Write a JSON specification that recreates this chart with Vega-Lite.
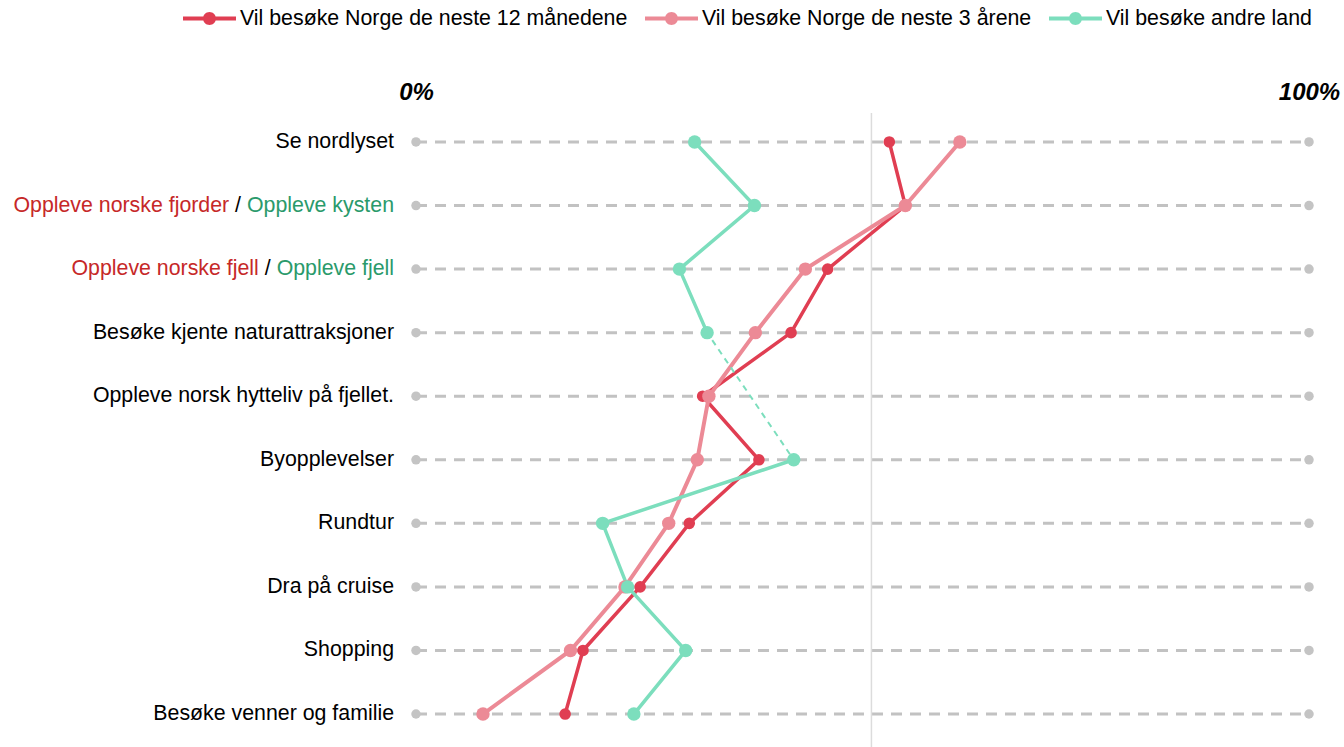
{
  "$schema": "https://vega.github.io/schema/vega-lite/v6.json",
  "autosize": {"type": "none"},
  "padding": {"left": 416, "top": 113, "right": 35, "bottom": 0},
  "width": 893,
  "height": 634,
  "background": "white",
  "config": {
    "view": {"stroke": null},
    "font": "Liberation Sans, Arial, sans-serif",
    "legend": {"title": null, "orient": "none", "legendX": -233, "legendY": -121, "direction": "horizontal",
      "symbolType": "M-1,-0.075H1V0.075H-1ZM0.245,0A0.245,0.245,0,1,1,-0.245,0A0.245,0.245,0,1,1,0.245,0Z",
      "symbolSize": 2809, "symbolStrokeWidth": 0, "symbolOpacity": 1,
      "labelFont": "Liberation Sans, Arial, sans-serif", "labelFontSize": 21.33, "labelColor": "#000000", "labelLimit": 1000,
      "labelOffset": 4, "columnPadding": 17, "padding": 0}
  },
  "datasets": {
    "verdier": [
      {"aktivitet": "Se nordlyset", "serie": "Vil besøke Norge de neste 12 månedene", "verdi": 53.0},
      {"aktivitet": "Se nordlyset", "serie": "Vil besøke Norge de neste 3 årene", "verdi": 60.9},
      {"aktivitet": "Se nordlyset", "serie": "Vil besøke andre land", "verdi": 31.2},
      {"aktivitet": "Oppleve norske fjorder / Oppleve kysten", "serie": "Vil besøke Norge de neste 12 månedene", "verdi": 54.8},
      {"aktivitet": "Oppleve norske fjorder / Oppleve kysten", "serie": "Vil besøke Norge de neste 3 årene", "verdi": 54.8},
      {"aktivitet": "Oppleve norske fjorder / Oppleve kysten", "serie": "Vil besøke andre land", "verdi": 37.9},
      {"aktivitet": "Oppleve norske fjell / Oppleve fjell", "serie": "Vil besøke Norge de neste 12 månedene", "verdi": 46.1},
      {"aktivitet": "Oppleve norske fjell / Oppleve fjell", "serie": "Vil besøke Norge de neste 3 årene", "verdi": 43.6},
      {"aktivitet": "Oppleve norske fjell / Oppleve fjell", "serie": "Vil besøke andre land", "verdi": 29.5},
      {"aktivitet": "Besøke kjente naturattraksjoner", "serie": "Vil besøke Norge de neste 12 månedene", "verdi": 42.0},
      {"aktivitet": "Besøke kjente naturattraksjoner", "serie": "Vil besøke Norge de neste 3 årene", "verdi": 38.0},
      {"aktivitet": "Besøke kjente naturattraksjoner", "serie": "Vil besøke andre land", "verdi": 32.6},
      {"aktivitet": "Oppleve norsk hytteliv på fjellet.", "serie": "Vil besøke Norge de neste 12 månedene", "verdi": 32.1},
      {"aktivitet": "Oppleve norsk hytteliv på fjellet.", "serie": "Vil besøke Norge de neste 3 årene", "verdi": 32.8},
      {"aktivitet": "Oppleve norsk hytteliv på fjellet.", "serie": "Vil besøke andre land", "verdi": null},
      {"aktivitet": "Byopplevelser", "serie": "Vil besøke Norge de neste 12 månedene", "verdi": 38.4},
      {"aktivitet": "Byopplevelser", "serie": "Vil besøke Norge de neste 3 årene", "verdi": 31.5},
      {"aktivitet": "Byopplevelser", "serie": "Vil besøke andre land", "verdi": 42.3},
      {"aktivitet": "Rundtur", "serie": "Vil besøke Norge de neste 12 månedene", "verdi": 30.6},
      {"aktivitet": "Rundtur", "serie": "Vil besøke Norge de neste 3 årene", "verdi": 28.3},
      {"aktivitet": "Rundtur", "serie": "Vil besøke andre land", "verdi": 20.9},
      {"aktivitet": "Dra på cruise", "serie": "Vil besøke Norge de neste 12 månedene", "verdi": 25.1},
      {"aktivitet": "Dra på cruise", "serie": "Vil besøke Norge de neste 3 årene", "verdi": 23.4},
      {"aktivitet": "Dra på cruise", "serie": "Vil besøke andre land", "verdi": 23.7},
      {"aktivitet": "Shopping", "serie": "Vil besøke Norge de neste 12 månedene", "verdi": 18.7},
      {"aktivitet": "Shopping", "serie": "Vil besøke Norge de neste 3 årene", "verdi": 17.3},
      {"aktivitet": "Shopping", "serie": "Vil besøke andre land", "verdi": 30.2},
      {"aktivitet": "Besøke venner og familie", "serie": "Vil besøke Norge de neste 12 månedene", "verdi": 16.7},
      {"aktivitet": "Besøke venner og familie", "serie": "Vil besøke Norge de neste 3 årene", "verdi": 7.5},
      {"aktivitet": "Besøke venner og familie", "serie": "Vil besøke andre land", "verdi": 24.4}
    ],
    "rader": [
      {"aktivitet": "Se nordlyset", "norge": null, "andre": null},
      {"aktivitet": "Oppleve norske fjorder / Oppleve kysten", "norge": "Oppleve norske fjorder", "andre": "Oppleve kysten"},
      {"aktivitet": "Oppleve norske fjell / Oppleve fjell", "norge": "Oppleve norske fjell", "andre": "Oppleve fjell"},
      {"aktivitet": "Besøke kjente naturattraksjoner", "norge": null, "andre": null},
      {"aktivitet": "Oppleve norsk hytteliv på fjellet.", "norge": null, "andre": null},
      {"aktivitet": "Byopplevelser", "norge": null, "andre": null},
      {"aktivitet": "Rundtur", "norge": null, "andre": null},
      {"aktivitet": "Dra på cruise", "norge": null, "andre": null},
      {"aktivitet": "Shopping", "norge": null, "andre": null},
      {"aktivitet": "Besøke venner og familie", "norge": null, "andre": null}
    ]
  },
  "layer": [
    {
      "data": {"name": "rader"},
      "mark": {"type": "rule", "color": "#c2c2c2", "strokeWidth": 3, "strokeDash": [11, 8]},
      "encoding": {
        "x": {"datum": 0, "type": "quantitative",
          "scale": {"domain": [0, 100], "nice": false, "zero": true},
          "axis": {"orient": "top", "values": [0, 100], "labelExpr": "datum.value + '%'", "domain": false, "ticks": false, "grid": false, "title": null,
            "labelFont": "Liberation Sans, Arial, sans-serif", "labelFontSize": 24, "labelFontWeight": "bold", "labelFontStyle": "italic",
            "labelColor": "#000000", "labelPadding": 14, "labelBaseline": "alphabetic", "labelFlush": false, "labelOverlap": false, "labelBound": false}},
        "x2": {"datum": 100},
        "y": {"field": "aktivitet", "type": "nominal", "axis": null,
          "sort": ["Se nordlyset", "Oppleve norske fjorder / Oppleve kysten", "Oppleve norske fjell / Oppleve fjell", "Besøke kjente naturattraksjoner", "Oppleve norsk hytteliv på fjellet.", "Byopplevelser", "Rundtur", "Dra på cruise", "Shopping", "Besøke venner og familie"],
          "scale": {"type": "point", "padding": 0.4874, "align": 0.4677}}
      }
    },
    {
      "data": {"values": [{"midt": 51}]},
      "mark": {"type": "rule", "color": "#dcdcdc", "strokeWidth": 1.5},
      "encoding": {"x": {"field": "midt", "type": "quantitative"}}
    },
    {
      "data": {"name": "rader"},
      "mark": {"type": "point", "filled": true, "opacity": 1, "color": "#c4c4c4", "size": 90},
      "encoding": {
        "x": {"datum": 0, "type": "quantitative"},
        "y": {"field": "aktivitet", "type": "nominal", "axis": null,
          "sort": ["Se nordlyset", "Oppleve norske fjorder / Oppleve kysten", "Oppleve norske fjell / Oppleve fjell", "Besøke kjente naturattraksjoner", "Oppleve norsk hytteliv på fjellet.", "Byopplevelser", "Rundtur", "Dra på cruise", "Shopping", "Besøke venner og familie"]}
      }
    },
    {
      "data": {"name": "rader"},
      "mark": {"type": "point", "filled": true, "opacity": 1, "color": "#c4c4c4", "size": 90},
      "encoding": {
        "x": {"datum": 100, "type": "quantitative"},
        "y": {"field": "aktivitet", "type": "nominal", "axis": null,
          "sort": ["Se nordlyset", "Oppleve norske fjorder / Oppleve kysten", "Oppleve norske fjell / Oppleve fjell", "Besøke kjente naturattraksjoner", "Oppleve norsk hytteliv på fjellet.", "Byopplevelser", "Rundtur", "Dra på cruise", "Shopping", "Besøke venner og familie"]}
      }
    },
    {
      "data": {"name": "rader"},
      "transform": [{"filter": "datum.andre == null"}],
      "mark": {"type": "text", "align": "right", "baseline": "middle", "dx": -22, "fontSize": 21.33, "font": "Liberation Sans, Arial, sans-serif", "color": "#000000"},
      "encoding": {
        "x": {"datum": 0, "type": "quantitative"},
        "y": {"field": "aktivitet", "type": "nominal", "axis": null,
          "sort": ["Se nordlyset", "Oppleve norske fjorder / Oppleve kysten", "Oppleve norske fjell / Oppleve fjell", "Besøke kjente naturattraksjoner", "Oppleve norsk hytteliv på fjellet.", "Byopplevelser", "Rundtur", "Dra på cruise", "Shopping", "Besøke venner og familie"]},
        "text": {"field": "aktivitet"}
      }
    },
    {
      "data": {"name": "rader"},
      "transform": [{"filter": "datum.andre != null"}],
      "mark": {"type": "text", "align": "right", "baseline": "middle", "dx": -22, "fontSize": 21.33, "font": "Liberation Sans, Arial, sans-serif", "color": "#2a9a6b"},
      "encoding": {
        "x": {"datum": 0, "type": "quantitative"},
        "y": {"field": "aktivitet", "type": "nominal", "axis": null,
          "sort": ["Se nordlyset", "Oppleve norske fjorder / Oppleve kysten", "Oppleve norske fjell / Oppleve fjell", "Besøke kjente naturattraksjoner", "Oppleve norsk hytteliv på fjellet.", "Byopplevelser", "Rundtur", "Dra på cruise", "Shopping", "Besøke venner og familie"]},
        "text": {"field": "andre"}
      }
    },
    {
      "data": {"name": "rader"},
      "transform": [{"filter": "datum.andre == 'Oppleve kysten'"}],
      "mark": {"type": "text", "align": "right", "baseline": "middle", "dx": -175, "fontSize": 21.33, "font": "Liberation Sans, Arial, sans-serif", "color": "#000000"},
      "encoding": {
        "x": {"datum": 0, "type": "quantitative"},
        "y": {"field": "aktivitet", "type": "nominal", "axis": null,
          "sort": ["Se nordlyset", "Oppleve norske fjorder / Oppleve kysten", "Oppleve norske fjell / Oppleve fjell", "Besøke kjente naturattraksjoner", "Oppleve norsk hytteliv på fjellet.", "Byopplevelser", "Rundtur", "Dra på cruise", "Shopping", "Besøke venner og familie"]},
        "text": {"value": "/"}
      }
    },
    {
      "data": {"name": "rader"},
      "transform": [{"filter": "datum.andre == 'Oppleve kysten'"}],
      "mark": {"type": "text", "align": "right", "baseline": "middle", "dx": -186.8, "fontSize": 21.33, "font": "Liberation Sans, Arial, sans-serif", "color": "#c62828"},
      "encoding": {
        "x": {"datum": 0, "type": "quantitative"},
        "y": {"field": "aktivitet", "type": "nominal", "axis": null,
          "sort": ["Se nordlyset", "Oppleve norske fjorder / Oppleve kysten", "Oppleve norske fjell / Oppleve fjell", "Besøke kjente naturattraksjoner", "Oppleve norsk hytteliv på fjellet.", "Byopplevelser", "Rundtur", "Dra på cruise", "Shopping", "Besøke venner og familie"]},
        "text": {"field": "norge"}
      }
    },
    {
      "data": {"name": "rader"},
      "transform": [{"filter": "datum.andre == 'Oppleve fjell'"}],
      "mark": {"type": "text", "align": "right", "baseline": "middle", "dx": -145.3, "fontSize": 21.33, "font": "Liberation Sans, Arial, sans-serif", "color": "#000000"},
      "encoding": {
        "x": {"datum": 0, "type": "quantitative"},
        "y": {"field": "aktivitet", "type": "nominal", "axis": null,
          "sort": ["Se nordlyset", "Oppleve norske fjorder / Oppleve kysten", "Oppleve norske fjell / Oppleve fjell", "Besøke kjente naturattraksjoner", "Oppleve norsk hytteliv på fjellet.", "Byopplevelser", "Rundtur", "Dra på cruise", "Shopping", "Besøke venner og familie"]},
        "text": {"value": "/"}
      }
    },
    {
      "data": {"name": "rader"},
      "transform": [{"filter": "datum.andre == 'Oppleve fjell'"}],
      "mark": {"type": "text", "align": "right", "baseline": "middle", "dx": -157.2, "fontSize": 21.33, "font": "Liberation Sans, Arial, sans-serif", "color": "#c62828"},
      "encoding": {
        "x": {"datum": 0, "type": "quantitative"},
        "y": {"field": "aktivitet", "type": "nominal", "axis": null,
          "sort": ["Se nordlyset", "Oppleve norske fjorder / Oppleve kysten", "Oppleve norske fjell / Oppleve fjell", "Besøke kjente naturattraksjoner", "Oppleve norsk hytteliv på fjellet.", "Byopplevelser", "Rundtur", "Dra på cruise", "Shopping", "Besøke venner og familie"]},
        "text": {"field": "norge"}
      }
    },
    {
      "data": {"name": "verdier"},
      "transform": [{"filter": "datum.serie == 'Vil besøke Norge de neste 12 månedene'"}],
      "mark": {"type": "line", "color": "#e03e52", "strokeWidth": 3.5},
      "encoding": {
        "x": {"field": "verdi", "type": "quantitative"},
        "y": {"field": "aktivitet", "type": "nominal", "axis": null,
          "sort": ["Se nordlyset", "Oppleve norske fjorder / Oppleve kysten", "Oppleve norske fjell / Oppleve fjell", "Besøke kjente naturattraksjoner", "Oppleve norsk hytteliv på fjellet.", "Byopplevelser", "Rundtur", "Dra på cruise", "Shopping", "Besøke venner og familie"]},
        "order": {"value": null}
      }
    },
    {
      "data": {"name": "verdier"},
      "transform": [{"filter": "datum.serie == 'Vil besøke Norge de neste 3 årene'"}],
      "mark": {"type": "line", "color": "#ec8a96", "strokeWidth": 4},
      "encoding": {
        "x": {"field": "verdi", "type": "quantitative"},
        "y": {"field": "aktivitet", "type": "nominal", "axis": null,
          "sort": ["Se nordlyset", "Oppleve norske fjorder / Oppleve kysten", "Oppleve norske fjell / Oppleve fjell", "Besøke kjente naturattraksjoner", "Oppleve norsk hytteliv på fjellet.", "Byopplevelser", "Rundtur", "Dra på cruise", "Shopping", "Besøke venner og familie"]},
        "order": {"value": null}
      }
    },
    {
      "data": {"name": "verdier"},
      "transform": [{"filter": "datum.serie == 'Vil besøke andre land' && isValid(datum.verdi)"}],
      "mark": {"type": "line", "color": "#7cdebd", "strokeWidth": 2, "strokeDash": [6, 5]},
      "encoding": {
        "x": {"field": "verdi", "type": "quantitative"},
        "y": {"field": "aktivitet", "type": "nominal", "axis": null,
          "sort": ["Se nordlyset", "Oppleve norske fjorder / Oppleve kysten", "Oppleve norske fjell / Oppleve fjell", "Besøke kjente naturattraksjoner", "Oppleve norsk hytteliv på fjellet.", "Byopplevelser", "Rundtur", "Dra på cruise", "Shopping", "Besøke venner og familie"]},
        "order": {"value": null}
      }
    },
    {
      "data": {"name": "verdier"},
      "transform": [{"filter": "datum.serie == 'Vil besøke andre land'"}],
      "mark": {"type": "line", "color": "#7cdebd", "strokeWidth": 3.5, "invalid": "break-paths-show-domains"},
      "encoding": {
        "x": {"field": "verdi", "type": "quantitative"},
        "y": {"field": "aktivitet", "type": "nominal", "axis": null,
          "sort": ["Se nordlyset", "Oppleve norske fjorder / Oppleve kysten", "Oppleve norske fjell / Oppleve fjell", "Besøke kjente naturattraksjoner", "Oppleve norsk hytteliv på fjellet.", "Byopplevelser", "Rundtur", "Dra på cruise", "Shopping", "Besøke venner og familie"]},
        "order": {"value": null}
      }
    },
    {
      "data": {"name": "verdier"},
      "transform": [{"filter": "datum.serie == 'Vil besøke Norge de neste 12 månedene'"}],
      "mark": {"type": "point", "filled": true, "opacity": 1, "shape": "circle", "size": 135},
      "encoding": {
        "x": {"field": "verdi", "type": "quantitative"},
        "y": {"field": "aktivitet", "type": "nominal", "axis": null,
          "sort": ["Se nordlyset", "Oppleve norske fjorder / Oppleve kysten", "Oppleve norske fjell / Oppleve fjell", "Besøke kjente naturattraksjoner", "Oppleve norsk hytteliv på fjellet.", "Byopplevelser", "Rundtur", "Dra på cruise", "Shopping", "Besøke venner og familie"]},
        "color": {"field": "serie", "type": "nominal",
          "scale": {"domain": ["Vil besøke Norge de neste 12 månedene", "Vil besøke Norge de neste 3 årene", "Vil besøke andre land"], "range": ["#e03e52", "#ec8a96", "#7cdebd"]}}
      }
    },
    {
      "data": {"name": "verdier"},
      "transform": [{"filter": "datum.serie == 'Vil besøke Norge de neste 3 årene'"}],
      "mark": {"type": "point", "filled": true, "opacity": 1, "shape": "circle", "size": 180},
      "encoding": {
        "x": {"field": "verdi", "type": "quantitative"},
        "y": {"field": "aktivitet", "type": "nominal", "axis": null,
          "sort": ["Se nordlyset", "Oppleve norske fjorder / Oppleve kysten", "Oppleve norske fjell / Oppleve fjell", "Besøke kjente naturattraksjoner", "Oppleve norsk hytteliv på fjellet.", "Byopplevelser", "Rundtur", "Dra på cruise", "Shopping", "Besøke venner og familie"]},
        "color": {"field": "serie", "type": "nominal",
          "scale": {"domain": ["Vil besøke Norge de neste 12 månedene", "Vil besøke Norge de neste 3 årene", "Vil besøke andre land"], "range": ["#e03e52", "#ec8a96", "#7cdebd"]}}
      }
    },
    {
      "data": {"name": "verdier"},
      "transform": [{"filter": "datum.serie == 'Vil besøke andre land'"}],
      "mark": {"type": "point", "filled": true, "opacity": 1, "shape": "circle", "size": 180},
      "encoding": {
        "x": {"field": "verdi", "type": "quantitative"},
        "y": {"field": "aktivitet", "type": "nominal", "axis": null,
          "sort": ["Se nordlyset", "Oppleve norske fjorder / Oppleve kysten", "Oppleve norske fjell / Oppleve fjell", "Besøke kjente naturattraksjoner", "Oppleve norsk hytteliv på fjellet.", "Byopplevelser", "Rundtur", "Dra på cruise", "Shopping", "Besøke venner og familie"]},
        "color": {"field": "serie", "type": "nominal",
          "scale": {"domain": ["Vil besøke Norge de neste 12 månedene", "Vil besøke Norge de neste 3 årene", "Vil besøke andre land"], "range": ["#e03e52", "#ec8a96", "#7cdebd"]}}
      }
    }
  ]
}
